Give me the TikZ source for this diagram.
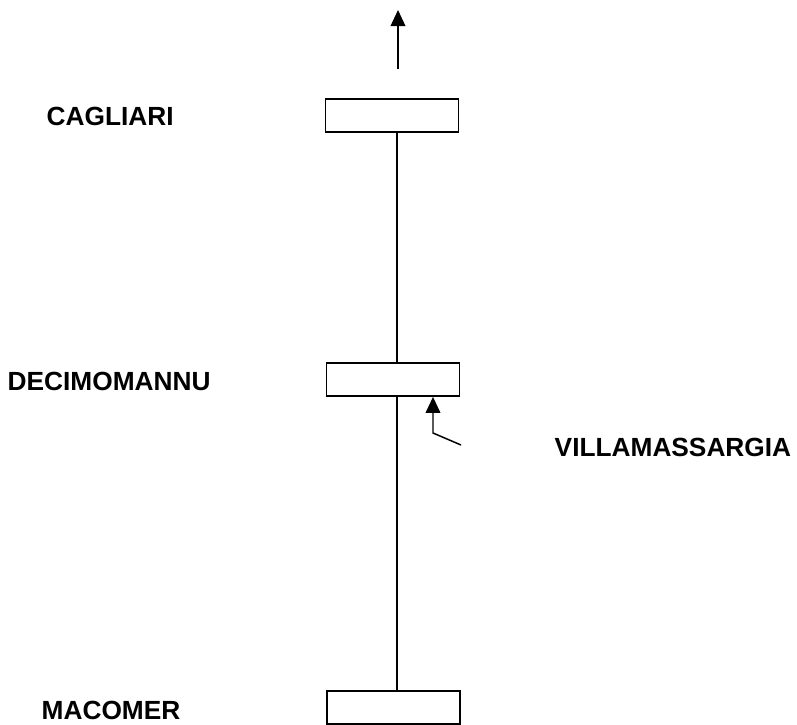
\documentclass[tikz,border=0pt]{standalone}
\usepackage{fontspec}
\setmainfont{Liberation Sans}
\usetikzlibrary{arrows.meta}
\tikzset{
  station/.style={draw,line width=1.1pt,minimum width=100pt,minimum height=25pt,inner sep=0pt},
  place/.style={anchor=west,inner sep=0pt,font=\fontsize{19.7}{22}\selectfont\bfseries}
}
\begin{document}
\begin{tikzpicture}[x=0.75pt,y=-0.75pt,>={Triangle[length=12pt,width=11pt]},line width=1.1pt]
\useasboundingbox (0,0) rectangle (797,725);
% stazioni
\node[station] (cag) at (392,115.5) {};
\node[station] (dec) at (393,379.5) {};
\node[station] (mac) at (393.5,707.5) {};
\node[place] (lcag) at (46,116) {CAGLIARI};
\node[place] (ldec) at (7,381) {DECIMOMANNU};
\node[place] (lvil) at (554,447) {VILLAMASSARGIA};
\node[place] (lmac) at (41,710) {MACOMER};
% linea
\coordinate (trunk) at (397,0);
\draw (cag.south -| trunk)--(dec.north -| trunk);
\draw (dec.south -| trunk)--(mac.north -| trunk);
\coordinate (out) at (398,69);
\coordinate (outtip) at (398,10);
\draw[->](out)--(outtip);
\coordinate (vstart) at (461,445);
\coordinate (vbend) at (433,433);
\draw[->](vstart)--(vbend)--(vbend |- dec.south);
\end{tikzpicture}
\end{document}
